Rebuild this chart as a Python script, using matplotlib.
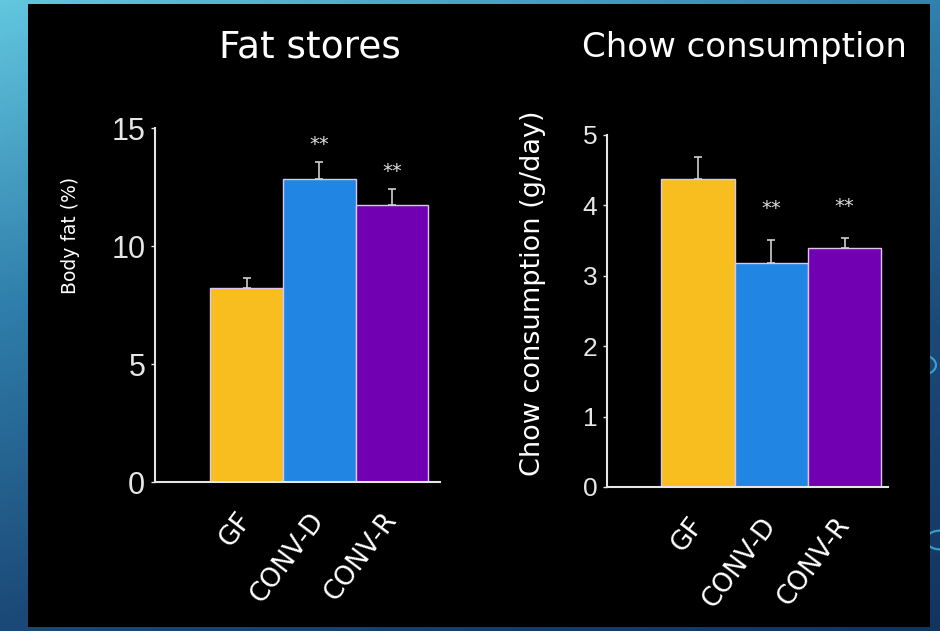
import numpy as np
import matplotlib
matplotlib.use("Agg")
import matplotlib.pyplot as plt
from matplotlib.patches import Rectangle, Circle
from matplotlib.colors import LinearSegmentedColormap

groups = ["GF", "CONV-D", "CONV-R"]
bar_colors = ["#F8BE1F", "#2185E4", "#7100B2"]

fat_mean = [8.2, 12.85, 11.75]
fat_err = [0.45, 0.7, 0.65]
fat_sig = ["", "**", "**"]

chow_mean = [4.37, 3.18, 3.40]
chow_err = [0.32, 0.33, 0.14]
chow_sig = ["", "**", "**"]

W, H = 940, 631
fig = plt.figure(figsize=(W / 100, H / 100), dpi=100)


def px(x, y):
    # pixel position (from top-left) -> figure fraction
    return x / W, 1 - y / H


# slide background: blue gradient with black panel on top
bg = fig.add_axes([0, 0, 1, 1])
bg.set_axis_off()
yy, xx = np.mgrid[0:1:200j, 0:1:200j]
grad = 0.75 * yy + 0.35 * xx
cmap = LinearSegmentedColormap.from_list("slide", ["#62c6de", "#2f7eab", "#1c4a78", "#123560"])
bg.imshow(grad, cmap=cmap, aspect="auto", extent=[0, 1, 0, 1], origin="upper", vmin=0, vmax=1.1)
for cx, cy, r in [(921, 365, 15), (940, 540, 14)]:
    bg.add_patch(Circle(px(cx, cy), r / W, transform=bg.transAxes, fill=False,
                        edgecolor="#3d9fd6", linewidth=1.5))
bg.add_patch(Rectangle(px(28, 627), (930 - 28) / W, (627 - 4) / H,
                       transform=bg.transAxes, facecolor="black", edgecolor="none"))
bg.set_xlim(0, 1)
bg.set_ylim(0, 1)


def bar_panel(ax, means, errs, sigs, ylim, ticks, xlim, tick_size, sig_offset):
    x = np.arange(len(groups))
    ax.bar(x, means, width=1.0, color=bar_colors, edgecolor="#d8c8ee", linewidth=1.0, zorder=2)
    ax.errorbar(x, means, yerr=[np.zeros(len(errs)), errs], fmt="none",
                ecolor="#cfcfcf", elinewidth=1.2, capsize=3, capthick=1.2, zorder=1)
    for xi, m, e, s in zip(x, means, errs, sigs):
        if s:
            ax.text(xi, m + e + sig_offset, s, color="#dddddd", ha="center", va="center",
                    fontsize=14, family="DejaVu Sans")
    ax.set_facecolor("none")
    ax.set_xlim(*xlim)
    ax.set_ylim(*ylim)
    ax.set_yticks(ticks)
    ax.set_yticklabels([str(t) for t in ticks], family="Liberation Sans",
                       fontsize=tick_size, color="#e6e6e6")
    ax.set_xticks(x)
    ax.set_xticklabels(groups, rotation=53, ha="right", va="center",
                       rotation_mode="anchor", fontsize=19, color="white",
                       family="DejaVu Sans")
    ax.tick_params(axis="x", length=0, pad=24)
    ax.tick_params(axis="y", length=3, width=1, colors="#e6e6e6", direction="out", pad=4)
    for side in ["top", "right"]:
        ax.spines[side].set_visible(False)
    for side in ["left", "bottom"]:
        ax.spines[side].set_color("#e6e6e6")
        ax.spines[side].set_linewidth(1.5)


ax1 = fig.add_axes([155 / W, 1 - 482 / H, (440 - 155) / W, (482 - 128) / H])
bar_panel(ax1, fat_mean, fat_err, fat_sig, (0, 15), [0, 5, 10, 15], (-1.26, 2.66), 22, 0.75)

ax2 = fig.add_axes([607 / W, 1 - 487 / H, (888 - 607) / W, (487 - 135) / H])
bar_panel(ax2, chow_mean, chow_err, chow_sig, (0, 5), [0, 1, 2, 3, 4, 5], (-1.24, 2.59), 19, 0.45)

fig.text(*px(310, 47), "Fat stores", color="white", fontsize=27, ha="center", va="center")
fig.text(*px(744, 47), "Chow consumption", color="white", fontsize=24.5, ha="center", va="center")
fig.text(*px(70, 235), "Body fat (%)", color="white", fontsize=13.5, rotation=90,
         ha="center", va="center")
fig.text(*px(533, 293), "Chow consumption (g/day)", color="white", fontsize=19.5, rotation=90,
         ha="center", va="center")

fig.savefig("out.png", dpi=100)
